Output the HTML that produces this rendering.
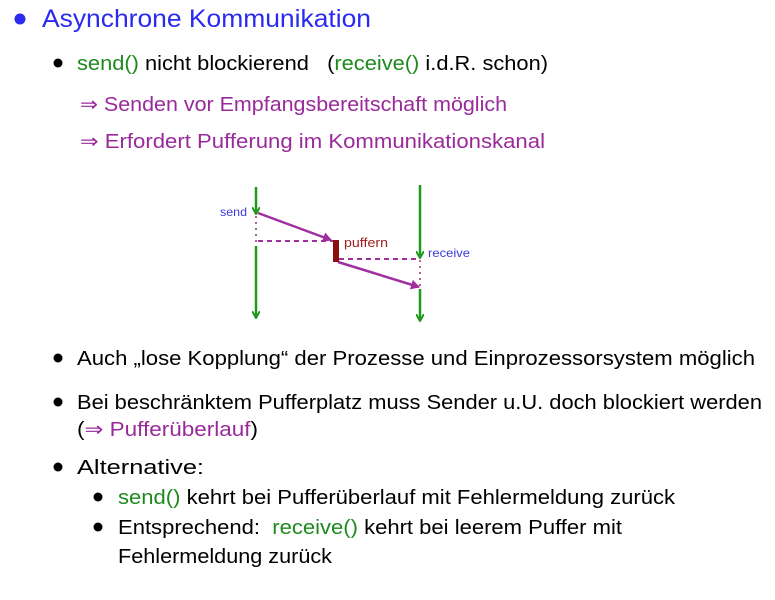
<!DOCTYPE html><html><head><style>body{margin:0;background:#fff}svg{display:block}text{font-family:"Liberation Sans",sans-serif}</style></head><body>
<svg width="775" height="600" viewBox="0 0 775 600" xmlns="http://www.w3.org/2000/svg">
<defs>
<marker id="g" markerWidth="8" markerHeight="8" refX="6" refY="4" orient="auto" markerUnits="userSpaceOnUse"><path d="M0,0 L7,4 L0,8" fill="none" stroke="#1e9a1e" stroke-width="2"/></marker>
<marker id="p" markerWidth="10" markerHeight="10" refX="8" refY="5" orient="auto" markerUnits="userSpaceOnUse"><path d="M0,0 L9,5 L0,10 Z" fill="#a030a0"/></marker>
</defs>
<circle cx="20" cy="19" r="5.5" fill="#2a2af0"/>
<text x="42" y="27" font-size="25" fill="#2a2af0" textLength="329" lengthAdjust="spacingAndGlyphs">Asynchrone Kommunikation</text>
<circle cx="58" cy="63" r="4.5" fill="#000"/>
<text x="77" y="70" font-size="20" fill="#000" textLength="471" lengthAdjust="spacingAndGlyphs" xml:space="preserve"><tspan fill="#1e8a1e">send()</tspan> nicht blockierend   (<tspan fill="#1e8a1e">receive()</tspan> i.d.R. schon)</text>
<text x="80" y="111" font-size="20" fill="#9a2a9a" textLength="427" lengthAdjust="spacingAndGlyphs">⇒ Senden vor Empfangsbereitschaft möglich</text>
<text x="80" y="148" font-size="20" fill="#9a2a9a" textLength="465" lengthAdjust="spacingAndGlyphs">⇒ Erfordert Pufferung im Kommunikationskanal</text>
<g stroke="#1e9a1e" stroke-width="2.5" fill="none">
<line x1="256" y1="187" x2="256" y2="213" marker-end="url(#g)"/>
<line x1="256" y1="246" x2="256" y2="317" marker-end="url(#g)"/>
<line x1="420" y1="185" x2="420" y2="257" marker-end="url(#g)"/>
<line x1="420" y1="289" x2="420" y2="320" marker-end="url(#g)"/>
</g>
<g stroke="#a03060" stroke-width="1.5" stroke-dasharray="2,4"><line x1="256" y1="216" x2="256" y2="243"/><line x1="420" y1="260" x2="420" y2="287"/></g>
<g stroke="#a030a0" stroke-width="2" stroke-dasharray="5,4"><line x1="258" y1="241" x2="333" y2="241"/><line x1="339" y1="259" x2="419" y2="259"/></g>
<g stroke="#a030a0" stroke-width="2.5"><line x1="258" y1="213" x2="331" y2="240" marker-end="url(#p)"/><line x1="338" y1="262" x2="419" y2="287" marker-end="url(#p)"/></g>
<rect x="333" y="240" width="6" height="22" fill="#8b1010"/>
<text x="220" y="216" font-size="12" fill="#3a3ae0" textLength="27" lengthAdjust="spacingAndGlyphs">send</text>
<text x="344" y="247" font-size="13" fill="#a02020" textLength="44" lengthAdjust="spacingAndGlyphs">puffern</text>
<text x="428" y="257" font-size="12" fill="#3a3ae0" textLength="42" lengthAdjust="spacingAndGlyphs">receive</text>
<circle cx="58" cy="358" r="4.5" fill="#000"/>
<text x="77" y="365" font-size="20" fill="#000" textLength="678" lengthAdjust="spacingAndGlyphs">Auch „lose Kopplung“ der Prozesse und Einprozessorsystem möglich</text>
<circle cx="58" cy="402" r="4.5" fill="#000"/>
<text x="77" y="409" font-size="20" fill="#000" textLength="685" lengthAdjust="spacingAndGlyphs">Bei beschränktem Pufferplatz muss Sender u.U. doch blockiert werden</text>
<text x="77" y="436" font-size="20" fill="#000" textLength="181" lengthAdjust="spacingAndGlyphs">(<tspan fill="#9a2a9a">⇒ Pufferüberlauf</tspan>)</text>
<circle cx="58" cy="467" r="4.5" fill="#000"/>
<text x="77" y="474" font-size="20" fill="#000" textLength="127" lengthAdjust="spacingAndGlyphs">Alternative:</text>
<circle cx="98" cy="497" r="4.5" fill="#000"/>
<text x="118" y="504" font-size="20" fill="#000" textLength="557" lengthAdjust="spacingAndGlyphs"><tspan fill="#1e8a1e">send()</tspan> kehrt bei Pufferüberlauf mit Fehlermeldung zurück</text>
<circle cx="98" cy="527" r="4.5" fill="#000"/>
<text x="118" y="534" font-size="20" fill="#000" textLength="504" lengthAdjust="spacingAndGlyphs" xml:space="preserve">Entsprechend:  <tspan fill="#1e8a1e">receive()</tspan> kehrt bei leerem Puffer mit</text>
<text x="118" y="563" font-size="20" fill="#000" textLength="214" lengthAdjust="spacingAndGlyphs">Fehlermeldung zurück</text>
</svg>
</body></html>
